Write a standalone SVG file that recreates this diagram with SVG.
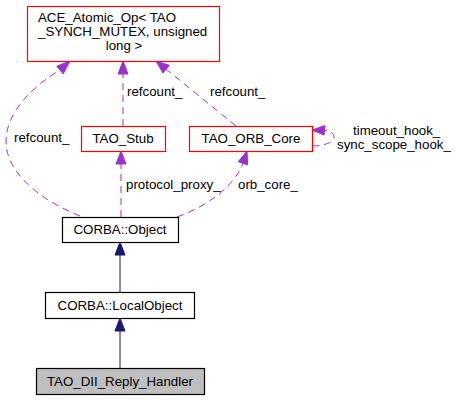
<svg xmlns="http://www.w3.org/2000/svg" width="459" height="400" viewBox="0 0 459 400">
<style>
text{font-family:"Liberation Sans",Arial,sans-serif;font-size:13.3px;fill:#000}
.box{fill:#fff;stroke-width:1.2}
.red{stroke:#ff0000}
.blk{stroke:#000}
.gry{fill:#bfbfbf;stroke:#000;stroke-width:1.2}
.dash{fill:none;stroke:#9a32cd;stroke-dasharray:7,5;stroke-width:1}
.pa{fill:#9a32cd;stroke:#9a32cd}
.bl{fill:none;stroke:#191970}
.ba{fill:#191970;stroke:#191970}
.c{text-anchor:middle}
</style>
<rect width="459" height="400" fill="#fff"/>
<g id="edges">
<path class="bl" d="M120,292 V255"/>
<polygon class="ba" points="120,242 115,255 125,255"/>
<path class="bl" d="M120,368 V331"/>
<polygon class="ba" points="120,318 115,331 125,331"/>
<path class="dash" d="M123,126 V74"/>
<polygon class="pa" points="123,61 118,74 128,74"/>
<text x="127" y="96">refcount_</text>
<path class="dash" d="M121,217 V164"/>
<polygon class="pa" points="121,151 116,164 126,164"/>
<text x="126" y="189">protocol_proxy_</text>
<path class="dash" d="M236,126 L166,69"/>
<polygon class="pa" points="156,61 169.3,65.3 162.9,73.1"/>
<text x="210" y="96">refcount_</text>
<path class="dash" d="M80,216 C40,200 5,172 6,140 C7,110 35,85 60,70"/>
<polygon class="pa" points="70,61 63.2,73.9 56.8,66.2"/>
<text x="14" y="142">refcount_</text>
<path class="dash" d="M177,217 C210,205 235,185 243,163"/>
<polygon class="pa" points="247,151 247.6,164.9 238.2,161.7"/>
<text x="238" y="189">orb_core_</text>
<path class="dash" d="M312,146 C325,146 334,142 334,137 C334,133 330,131 324,130"/>
<polygon class="pa" points="312,130 325,125.5 324,135"/>
<text x="353" y="135">timeout_hook_</text>
<text x="337" y="149">sync_scope_hook_</text>
</g>
<g id="ace">
<rect class="box red" x="27.5" y="6.5" width="192" height="55"/>
<text x="38" y="22">ACE_Atomic_Op&lt; TAO</text>
<text x="38" y="36">_SYNCH_MUTEX, unsigned</text>
<text x="124" y="50" class="c">long &gt;</text>
</g>
<g id="stub">
<rect class="box red" x="81.5" y="126.5" width="84" height="25"/>
<text x="123" y="143" class="c">TAO_Stub</text>
</g>
<g id="orbcore">
<rect class="box red" x="189.5" y="126.5" width="123" height="25"/>
<text x="251" y="143" class="c">TAO_ORB_Core</text>
</g>
<g id="object">
<rect class="box blk" x="62.5" y="217.5" width="116" height="25"/>
<text x="120" y="234" class="c">CORBA::Object</text>
</g>
<g id="localobject">
<rect class="box blk" x="45.5" y="292.5" width="149" height="26"/>
<text x="120" y="310" class="c">CORBA::LocalObject</text>
</g>
<g id="handler">
<rect class="gry" x="36.5" y="368.5" width="168" height="26"/>
<text x="120" y="386" class="c">TAO_DII_Reply_Handler</text>
</g>
</svg>
